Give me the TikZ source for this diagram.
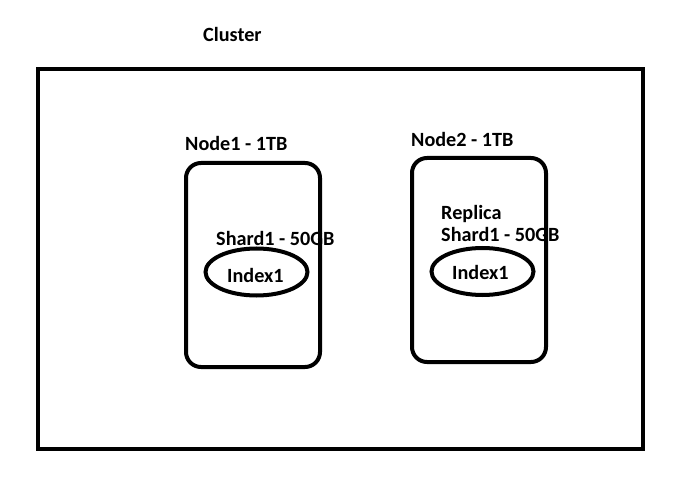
\documentclass[tikz,border=0pt]{standalone}
\usepackage{fontspec}
\setmainfont{Carlito}
\usetikzlibrary{shapes.geometric}

\tikzset{
  boxline/.style={draw,line width=4pt},
  serverbox/.style={boxline,rectangle,rounded corners=15pt,minimum width=134pt,minimum height=204pt},
  indexoval/.style={boxline,ellipse,minimum width=102pt,minimum height=47pt},
  lbl/.style={anchor=base west,inner sep=0pt,font=\fontsize{20.2}{24}\selectfont\bfseries}
}

\begin{document}
\begin{tikzpicture}[x=1pt,y=-1pt]
\useasboundingbox (0,0) rectangle (677,489);

%% labels
\node (clusterlbl) at (203,42) [lbl] {Cluster};
\node (node1lbl) at (185,151) [lbl] {Node1 - 1TB};
\node (node2lbl) at (411,147) [lbl] {Node2 - 1TB};
\node (shard1lbl) at (216,245) [lbl] {Shard1 - 50GB};
\node (replicalbl) at (441,219) [lbl] {Replica};
\node (shard2lbl) at (441,241) [lbl] {Shard1 - 50GB};

%% boxes
\node (cluster) at (340.5,259) [boxline,rectangle,minimum width=605pt,minimum height=380pt] {};
\node (node1) at (253,265) [serverbox] {};
\node (node2) at (479,260) [serverbox] {};

%% indexes
\node (index1) at (256.5,272) [indexoval] {};
\node (index2) at (482.5,271.5) [indexoval] {};
\node (index1lbl) at (227,282) [lbl] {Index1};
\node (index2lbl) at (452,279) [lbl] {Index1};

\end{tikzpicture}
\end{document}
